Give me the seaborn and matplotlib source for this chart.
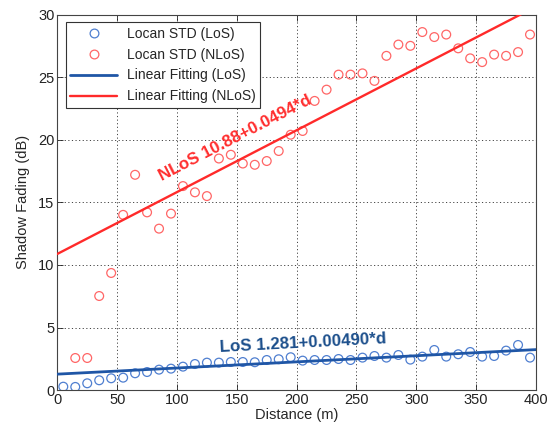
import numpy as np
import pandas as pd
import matplotlib
matplotlib.use("Agg")
import matplotlib.pyplot as plt
import seaborn as sns
from matplotlib.lines import Line2D

# Measurement distances (m)
distance = [5, 15, 25, 35, 45, 55, 65, 75, 85, 95, 105, 115, 125, 135, 145, 155,
            165, 175, 185, 195, 205, 215, 225, 235, 245, 255, 265, 275, 285, 295,
            305, 315, 325, 335, 345, 355, 365, 375, 385, 395]

# Local standard deviation of shadow fading, LoS (dB)
los_std = [0.28, 0.26, 0.55, 0.79, 0.95, 1.00, 1.35, 1.45, 1.64, 1.72, 1.88, 2.09,
           2.20, 2.20, 2.25, 2.25, 2.23, 2.41, 2.47, 2.63, 2.36, 2.41, 2.41, 2.49,
           2.41, 2.60, 2.73, 2.60, 2.81, 2.44, 2.68, 3.21, 2.68, 2.87, 3.05, 2.68,
           2.73, 3.16, 3.61, 2.60]

# Local standard deviation of shadow fading, NLoS (dB); no sample at 5 m
nlos_std = [np.nan, 2.57, 2.57, 7.52, 9.36, 14.0, 17.2, 14.2, 12.9, 14.1, 16.3, 15.8,
            15.5, 18.5, 18.8, 18.1, 18.0, 18.3, 19.1, 20.4, 20.7, 23.1, 24.0, 25.2,
            25.2, 25.3, 24.7, 26.7, 27.6, 27.5, 28.6, 28.2, 28.4, 27.3, 26.5, 26.2,
            26.8, 26.7, 27.0, 28.4]

# Linear fit coefficients: std = intercept + slope * d
los_intercept, los_slope = 1.281, 0.00490
nlos_intercept, nlos_slope = 10.88, 0.0494
fit_range = [0, 400]

x_ticks = [0, 50, 100, 150, 200, 250, 300, 350, 400]
y_ticks = [0, 5, 10, 15, 20, 25, 30]

BLUE_MARK = "#4f7fd0"
RED_MARK = "#ff6666"
BLUE_LINE = "#1f56a6"
RED_LINE = "#ff2a2a"
BLUE_TEXT = "#1c4f8c"
RED_TEXT = "#ff2e2e"

sns.set_theme(style="ticks")
plt.rcParams["font.family"] = ["Liberation Sans", "DejaVu Sans"]

fig = plt.figure(figsize=(5.57, 4.32), dpi=100)
ax = fig.add_axes([0.1029, 0.0968, 0.8594, 0.8696])

pts = pd.DataFrame({"d": distance, "los": los_std, "nlos": nlos_std})
fit = pd.DataFrame({"d": fit_range})
fit["los"] = los_intercept + los_slope * fit["d"]
fit["nlos"] = nlos_intercept + nlos_slope * fit["d"]

sns.scatterplot(data=pts, x="d", y="los", ax=ax, marker="o", s=40,
                facecolors="none", edgecolor=BLUE_MARK, linewidth=0.9, zorder=3)
sns.scatterplot(data=pts.dropna(), x="d", y="nlos", ax=ax, marker="o", s=40,
                facecolors="none", edgecolor=RED_MARK, linewidth=0.9, zorder=3)
sns.lineplot(data=fit, x="d", y="los", ax=ax, color=BLUE_LINE, linewidth=2.0, zorder=4)
sns.lineplot(data=fit, x="d", y="nlos", ax=ax, color=RED_LINE, linewidth=1.7, zorder=4)

ax.set_xlim(0, 400)
ax.set_ylim(0, 30)
ax.set_xticks(x_ticks)
ax.set_yticks(y_ticks)
ax.set_xticklabels([str(v) for v in x_ticks])
ax.set_yticklabels([str(v) for v in y_ticks])
ax.tick_params(direction="in", length=4, width=0.6, labelsize=10.5, colors="#222222",
               top=True, right=False, pad=2)
ax.grid(True, linestyle=(0, (1.2, 2.5)), color="#444444", linewidth=0.7)
for side in ["top", "right", "left", "bottom"]:
    ax.spines[side].set_visible(True)
    ax.spines[side].set_color("#444444")
    ax.spines[side].set_linewidth(0.8)

ax.set_xlabel("Distance (m)", fontsize=10.5, labelpad=1)
ax.set_ylabel("Shadow Fading (dB)", fontsize=10.5, labelpad=6)

# Fit equations written alongside their lines
ax.text(149, 20.1, "NLoS 10.88+0.0494*d", color=RED_TEXT, fontsize=12.2,
        fontweight="bold", family="Liberation Sans", rotation=27.3,
        rotation_mode="anchor", ha="center", va="center")
ax.text(136, 3.08, "LoS 1.281+0.00490*d", color=BLUE_TEXT, fontsize=12.2,
        fontweight="bold", family="Liberation Sans", rotation=3.0,
        rotation_mode="anchor", ha="left", va="baseline")

handles = [
    Line2D([], [], marker="o", linestyle="none", markersize=6.3,
           markerfacecolor="none", markeredgecolor=BLUE_MARK, markeredgewidth=0.9),
    Line2D([], [], marker="o", linestyle="none", markersize=6.3,
           markerfacecolor="none", markeredgecolor=RED_MARK, markeredgewidth=0.9),
    Line2D([], [], color=BLUE_LINE, linewidth=2.0),
    Line2D([], [], color=RED_LINE, linewidth=1.7),
]
labels = ["Locan STD (LoS)", "Locan STD (NLoS)", "Linear Fitting (LoS)",
          "Linear Fitting (NLoS)"]
leg = ax.legend(handles, labels, loc="upper left", bbox_to_anchor=(0.018, 0.979),
                fontsize=10, frameon=True, fancybox=False, framealpha=1,
                edgecolor="#333333", handlelength=3.4, handletextpad=0.7,
                labelspacing=0.5, borderpad=0.3, borderaxespad=0)
leg.get_frame().set_linewidth(0.8)

fig.savefig("out.png", dpi=100)
